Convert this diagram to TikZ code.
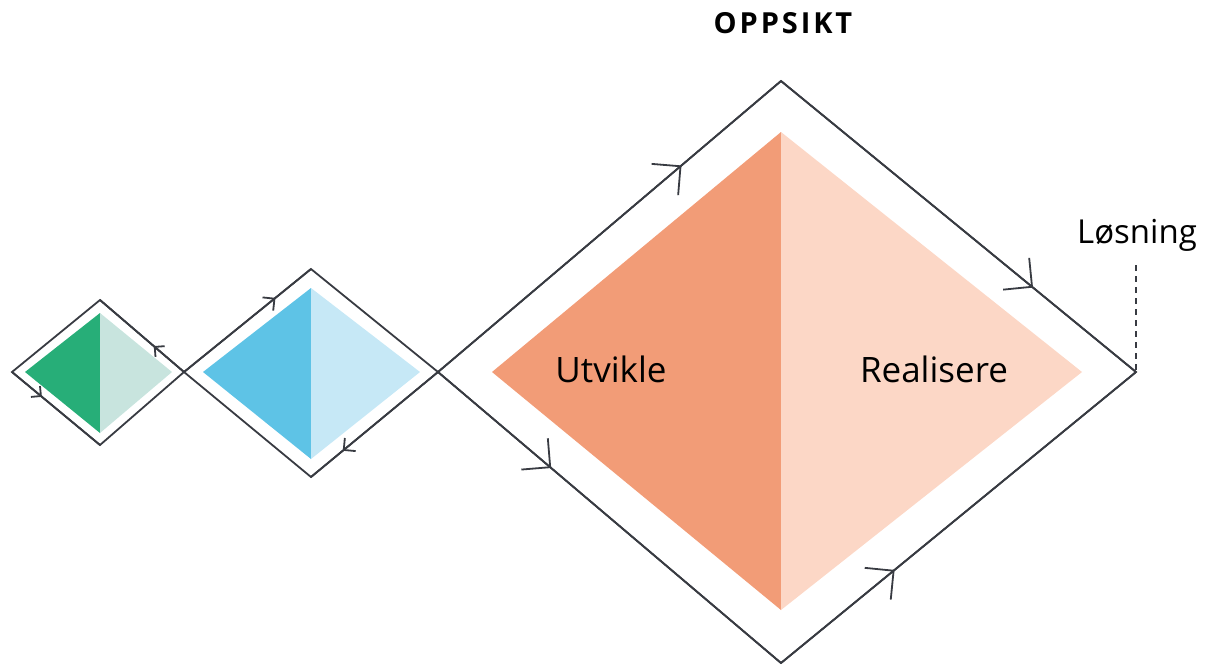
\documentclass[tikz,border=0pt]{standalone}
\usepackage{fontspec}
\setmainfont{Open Sans}
\usetikzlibrary{arrows.meta,decorations.markings}
\definecolor{linegray}{HTML}{383B42}
\definecolor{greendark}{HTML}{27AE78}
\definecolor{greenlight}{HTML}{C8E4DE}
\definecolor{bluedark}{HTML}{5EC3E6}
\definecolor{bluelight}{HTML}{C6E8F6}
\definecolor{orangedark}{HTML}{F29C77}
\definecolor{orangelight}{HTML}{FCD7C6}
\begin{document}
\begin{tikzpicture}[x=1pt,y=-1pt,
  outline/.style={draw=linegray,color=linegray,line width=1.8pt,line join=miter},
  flow/.style 2 args={postaction={decorate},decoration={markings,
    mark=at position #1 with {\arrow{Straight Barb[angle=90:#2]}}}},
  label/.style={anchor=base,inner sep=0pt,font=\fontsize{35}{42}\selectfont}]
\useasboundingbox (0,0) rectangle (1210,665);
% corners of the three diamonds
\coordinate (sL) at (12,372);  \coordinate (sT) at (100,300);
\coordinate (sR) at (184,372); \coordinate (sB) at (100,445);
\coordinate (mL) at (184,372); \coordinate (mT) at (311,269);
\coordinate (mR) at (438,372); \coordinate (mB) at (311,477);
\coordinate (lL) at (438,372); \coordinate (lT) at (781,81);
\coordinate (lR) at (1136,372); \coordinate (lB) at (781,663);
% filled halves
\fill[greendark]   (25,372) -- (100,313) -- (100,433) -- cycle;
\fill[greenlight]  (100,313) -- (172,372) -- (100,433) -- cycle;
\fill[bluedark]    (203,372) -- (311,288) -- (311,459) -- cycle;
\fill[bluelight]   (311,288) -- (420,372) -- (311,459) -- cycle;
\fill[orangedark]  (492,372) -- (781,132) -- (781,610) -- cycle;
\fill[orangelight] (781,132) -- (1082,372) -- (781,610) -- cycle;
% outlines
\draw[outline] (sL) -- (sB) -- (sR) -- (sT) -- cycle;
\draw[outline] (mL) -- (mT) -- (mR) -- (mB) -- cycle;
\draw[outline] (lL) -- (lT) -- (lR) -- (lB) -- cycle;
% arrows along the edges
\draw[outline,flow={0.34}{10pt}] (sL) -- (sB);
\draw[outline,flow={0.36}{10pt}] (sR) -- (sT);
\draw[outline,flow={0.72}{12pt}] (mL) -- (mT);
\draw[outline,flow={0.75}{12pt}] (mR) -- (mB);
\draw[outline,flow={0.71}{29pt}] (lL) -- (lT);
\draw[outline,flow={0.71}{29pt}] (lT) -- (lR);
\draw[outline,flow={0.33}{29pt}] (lL) -- (lB);
\draw[outline,flow={0.32}{29pt}] (lB) -- (lR);
% texts
\node[label] (utvikle) at (611,382) {Utvikle};
\node[label] (realisere) at (934,382) {Realisere};
\node[label,font=\fontsize{33}{40}\selectfont] (losning) at (1137,243) {Løsning};
\node[label,font=\fontsize{29}{34}\selectfont\bfseries\addfontfeatures{LetterSpace=10}]
  (oppsikt) at (783,33) {OPPSIKT};
\coordinate (dtop) at (1136,265);
\draw[outline,dash pattern=on 6pt off 5pt] (dtop) -- (lR);
\end{tikzpicture}
\end{document}
